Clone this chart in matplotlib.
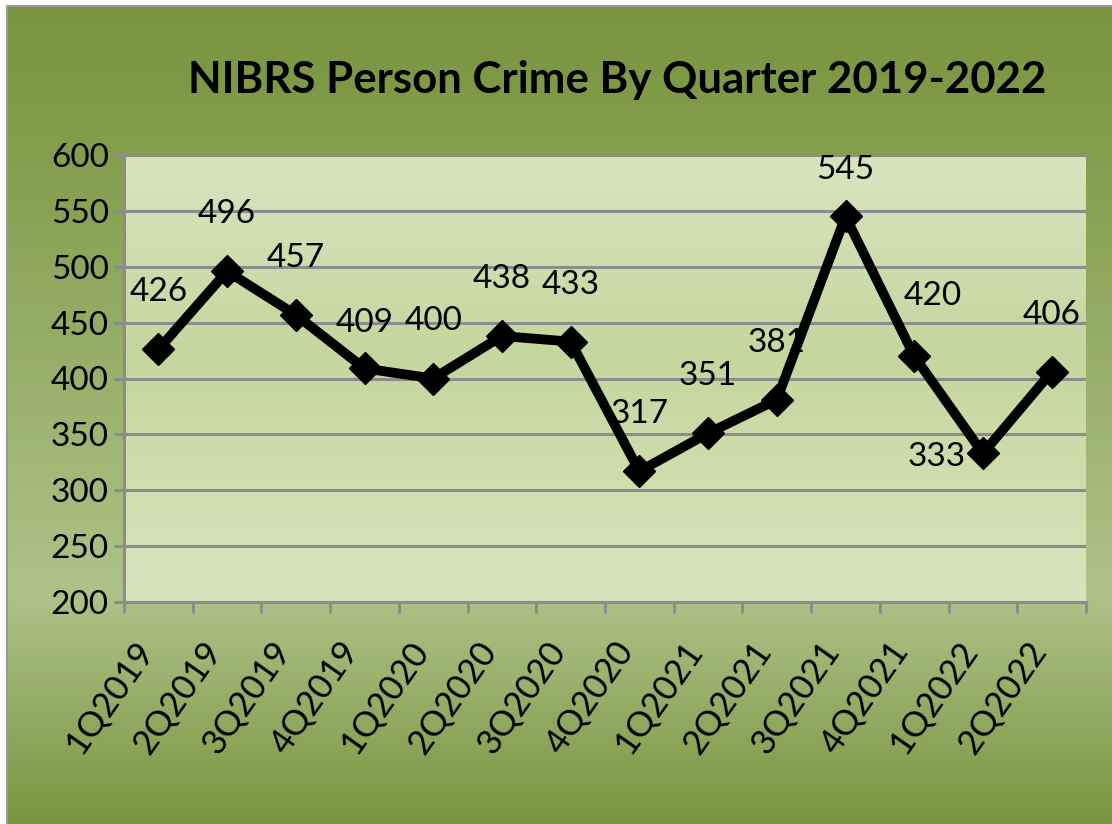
import numpy as np
import matplotlib
matplotlib.use("Agg")
import matplotlib.pyplot as plt
import matplotlib.transforms as mtransforms
from matplotlib.colors import LinearSegmentedColormap
from matplotlib.lines import Line2D

quarters = ["1Q2019", "2Q2019", "3Q2019", "4Q2019", "1Q2020", "2Q2020", "3Q2020",
            "4Q2020", "1Q2021", "2Q2021", "3Q2021", "4Q2021", "1Q2022", "2Q2022"]
crimes = [426, 496, 457, 409, 400, 438, 433, 317, 351, 381, 545, 420, 333, 406]
y_ticks = [200, 250, 300, 350, 400, 450, 500, 550, 600]

plt.rcParams['font.family'] = ['Lato', 'DejaVu Sans']

W, H = 1112, 824
fig = plt.figure(figsize=(W / 100, H / 100), dpi=100)
fig.patch.set_facecolor("white")

# outer green gradient background
bg = fig.add_axes([8 / W, 0, 1 - 8 / W, 1 - 7 / H], zorder=-10)
outer = LinearSegmentedColormap.from_list(
    "outer", [(0, "#7a9540"), (0.15, "#819c4a"), (0.72, "#adc388"), (1, "#799540")])
bg.imshow(np.linspace(0, 1, 256).reshape(-1, 1), cmap=outer, aspect="auto",
          extent=[0, 1, 0, 1])
bg.set_axis_off()
fig.add_artist(Line2D([7 / W, 1], [1 - 6 / H, 1 - 6 / H], transform=fig.transFigure,
                      color="#9a9a9a", lw=1.5))
fig.add_artist(Line2D([7 / W, 7 / W], [0, 1 - 6 / H], transform=fig.transFigure,
                      color="#9a9a9a", lw=1.5))

ax = fig.add_axes([124 / W, 1 - 602 / H, (1086 - 124) / W, (602 - 155) / H])
inner = LinearSegmentedColormap.from_list(
    "inner", [(0, "#d9e4bf"), (0.45, "#c5d69e"), (1, "#d9e4bf")])
ax.imshow(np.linspace(0, 1, 256).reshape(-1, 1), cmap=inner, aspect="auto",
          extent=[0, 1, 0, 1], transform=ax.transAxes, zorder=0)
ax.patch.set_alpha(0)

x = np.arange(len(quarters))
ax.plot(x, crimes, color="black", lw=7, marker="D", ms=16, mec="black",
        solid_joinstyle="miter", zorder=5)

# data labels (mostly above the point)
offsets = {3: (0, 45), 10: (0, 46), 11: (19, 60), 12: (-46, -4)}
for i, v in enumerate(crimes):
    dx, dy = offsets.get(i, (0, 57))
    ax.annotate(str(v), (x[i], v), xytext=(dx * 0.72, dy * 0.72),
                textcoords="offset points", ha="center", va="center",
                fontsize=24, color="black", zorder=6)

ax.set_xlim(-0.5, len(quarters) - 0.5)
ax.set_ylim(200, 600)
ax.set_yticks(y_ticks)
ax.tick_params(axis="y", labelsize=24, length=7, width=2.2, color="#8c8c8c", pad=4)
ax.grid(axis="y", color="#8c8c8c", lw=2.2, zorder=1)
ax.set_axisbelow(True)

ax.set_xticks(x)
ax.set_xticklabels(quarters, rotation=55, ha="right", va="center",
                   rotation_mode="anchor", fontsize=25)
ax.tick_params(axis="x", which="major", length=0, pad=31)
shift = mtransforms.ScaledTranslation(-12 / 100, 0, fig.dpi_scale_trans)
for lbl in ax.get_xticklabels():
    lbl.set_transform(lbl.get_transform() + shift)
ax.set_xticks(np.arange(-0.5, len(quarters)), minor=True)
ax.tick_params(axis="x", which="minor", length=8, width=2.2, color="#8c8c8c")

for s in ["top", "right"]:
    ax.spines[s].set_visible(False)
for s in ["left", "bottom"]:
    ax.spines[s].set_color("#8c8c8c")
    ax.spines[s].set_linewidth(2.2)

fig.text(617 / W, 1 - 80 / H, "NIBRS Person Crime By Quarter 2019-2022",
         ha="center", va="center", fontsize=31.5, fontweight="bold")

fig.savefig("out.png", dpi=100)
